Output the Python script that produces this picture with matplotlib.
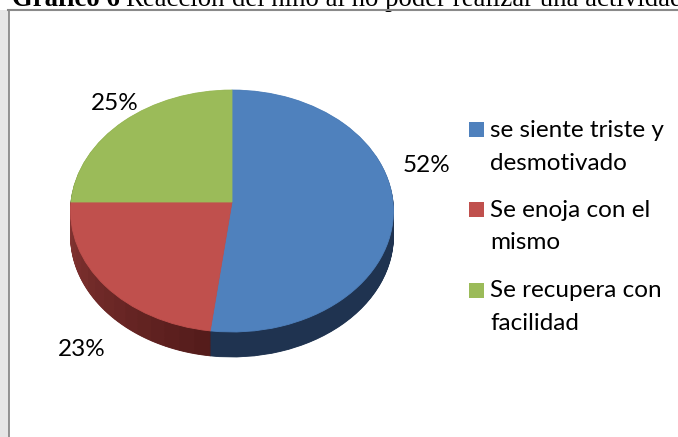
import matplotlib.pyplot as plt
from matplotlib.patches import Rectangle
from matplotlib.lines import Line2D
from matplotlib.transforms import Transform, Affine2D
import numpy as np

categories = ["se siente triste y\ndesmotivado", "Se enoja con el\nmismo", "Se recupera con\nfacilidad"]
values = [52, 23, 25]
pct_labels = ["52%", "23%", "25%"]
title_parts = ["Gráfico 6", "Reacción", "del niño al no poder realizar una actividad"]

top_colors = ["#4f81bd", "#c0504d", "#9bbb59"]
side_blue = "#1f3350"
side_green = "#4f6328"


class Tilt(Transform):
    # simple perspective for the tilted 3d pie (far side smaller)
    input_dims = 2
    output_dims = 2

    def __init__(self, k):
        super().__init__()
        self.k = k

    def transform_non_affine(self, values):
        values = np.asarray(values, dtype=float)
        s = 1.0 / (1.0 + self.k * values[:, 1])
        return np.column_stack([values[:, 0] * s, values[:, 1] * s])


W, H = 678, 437
fig = plt.figure(figsize=(W / 100, H / 100), dpi=100)
fig.patch.set_facecolor("white")

cx, cy = 232, 202     # apex of the pie, px
ra, rb = 161, 120.3   # px per unit
k = 0.0744
depth = 25            # side thickness, px
lim = 1.3
ax = fig.add_axes([(cx - lim * ra) / W, (H - cy - lim * rb) / H,
                   2 * lim * ra / W, 2 * lim * rb / H])
ax.patch.set_visible(False)
ax.set_xlim(-lim, lim)
ax.set_ylim(-lim, lim)
tilt = Tilt(k)

# side: stacked pies, red split in pieces to fake the shading
n_red = 16
side_vals = [values[0]] + [values[1] / n_red] * n_red + [values[2]]
red_dark = np.array([0x55, 0x1c, 0x1b]) / 255
red_light = np.array([0x86, 0x35, 0x33]) / 255
red_shades = [tuple(red_dark + (red_light - red_dark) * i / (n_red - 1)) for i in range(n_red)]
side_cols = [side_blue] + red_shades + [side_green]

n_layers = 40
for i in range(n_layers, 0, -1):
    off = depth * i / n_layers / rb
    wedges, _ = ax.pie(side_vals, colors=side_cols, startangle=90, counterclock=False,
                       wedgeprops=dict(linewidth=0.6))
    for w in wedges:
        w.set_edgecolor(w.get_facecolor())
        w.set_transform(tilt + Affine2D().translate(0, -off) + ax.transData)

wedges, _ = ax.pie(values, colors=top_colors, startangle=90, counterclock=False,
                   wedgeprops=dict(linewidth=0.6))
for w in wedges:
    w.set_edgecolor(w.get_facecolor())
    w.set_transform(tilt + ax.transData)

ax.set_aspect("auto")
ax.set_xlim(-lim, lim)
ax.set_ylim(-lim, lim)
ax.axis("off")

font = "Lato"
fs = 17.5
pct_pos = [(427, 165), (82, 350), (115, 103)]
for lab, (x, y) in zip(pct_labels, pct_pos):
    fig.text(x / W, 1 - y / H, lab, ha="center", va="center", fontsize=fs,
             family=font, color="black")

# legend
leg_sq = [122, 202, 283]
leg_base = [(137, 170), (217, 249), (297, 330)]
for cat, col, sq, bases in zip(categories, top_colors, leg_sq, leg_base):
    fig.add_artist(Rectangle((469 / W, 1 - (sq + 15) / H), 15 / W, 15 / H,
                             transform=fig.transFigure, facecolor=col, edgecolor="none"))
    for line, b in zip(cat.split("\n"), bases):
        fig.text(490 / W, 1 - b / H, line, ha="left", va="baseline", fontsize=fs,
                 family=font, color="black")

# page frame around the chart
fig.add_artist(Rectangle((0, 0), 8.5 / W, 1 - 10 / H, transform=fig.transFigure,
                         facecolor="#e6e6e6", edgecolor="none", zorder=5))
fig.add_artist(Line2D([9 / W, 9 / W], [0, 1 - 10 / H], transform=fig.transFigure,
                      color="#808080", linewidth=1.2, zorder=6))
fig.add_artist(Line2D([8 / W, 1], [1 - 10 / H, 1 - 10 / H], transform=fig.transFigure,
                      color="#8a8a8a", linewidth=1.5, zorder=6))

# caption above, cut off by the top edge like in the source
r = fig.canvas.get_renderer()
base_y = 1 - 5.5 / H
probe = fig.text(0, 0, title_parts[2], fontsize=10, family="Liberation Serif")
tfs = 10 * 452 / probe.get_window_extent(r).width
probe.remove()
fig.text(232 / W, base_y, title_parts[2], ha="left", va="baseline", fontsize=tfs,
         family="Liberation Serif")
t2 = fig.text(225 / W, base_y, title_parts[1], ha="right", va="baseline", fontsize=tfs,
              family="Liberation Serif")
x2 = t2.get_window_extent(r).x0
fig.text((x2 - 6) / W, base_y, title_parts[0], ha="right", va="baseline", fontsize=tfs,
         family="Liberation Serif", weight="bold")

fig.savefig("out.png", dpi=100)
